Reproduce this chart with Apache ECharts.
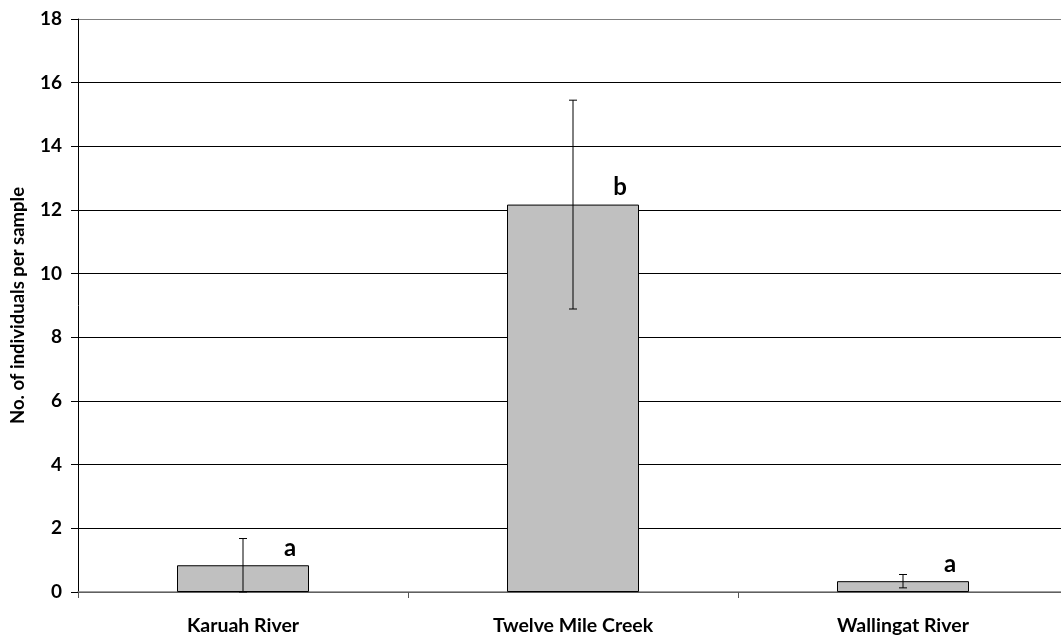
<!DOCTYPE html>
<html>
<head>
<meta charset="utf-8">
<script src="https://cdn.jsdelivr.net/npm/echarts@6/dist/echarts.min.js"></script>
<style>html,body{margin:0;padding:0;background:#fff}#c{width:1061px;height:637px}</style>
</head>
<body>
<div id="c"></div>
<script>
const categories = ['Karuah River', 'Twelve Mile Creek', 'Wallingat River'];
const means = [0.84, 12.17, 0.34];
const errors = [0.84, 3.28, 0.21];
const letters = ['a', 'b', 'a'];
const yTicks = [0, 2, 4, 6, 8, 10, 12, 14, 16, 18];

const FONT = 'Lato';
const chart = echarts.init(document.getElementById('c'), null, {renderer: 'canvas'});
const gridColors = yTicks.map((v, i) => i === yTicks.length - 1 ? '#808080' : '#000');

chart.setOption({
  animation: false,
  backgroundColor: '#fff',
  grid: {left: 78, top: 19, width: 990, height: 573, containLabel: false, outerBoundsMode: 'none'},
  xAxis: {
    type: 'category',
    data: categories,
    boundaryGap: true,
    axisLine: {lineStyle: {color: '#808080', width: 1.5}},
    axisTick: {show: true, length: 6, lineStyle: {color: '#555'}},
    axisLabel: {margin: 24, fontFamily: FONT, fontWeight: 'bold', fontSize: 19.5, color: '#000'}
  },
  yAxis: {
    type: 'value',
    min: 0, max: 18, interval: 2,
    name: 'No. of individuals per sample',
    nameLocation: 'middle',
    nameGap: 50,
    nameTextStyle: {fontFamily: FONT, fontWeight: 'bold', fontSize: 18.5, color: '#000'},
    axisLine: {show: true, lineStyle: {color: '#000', width: 1}},
    axisTick: {show: true, length: 7, lineStyle: {color: '#000'}},
    axisLabel: {margin: 16, fontFamily: FONT, fontWeight: 'bold', fontSize: 19, color: '#000'},
    splitLine: {show: true, lineStyle: {color: gridColors, width: 1}}
  },
  series: [
    {
      type: 'bar',
      data: means.map((m, i) => ({value: m, label: {formatter: letters[i]}})),
      barWidth: '40%',
      itemStyle: {color: '#c0c0c0', borderColor: '#000', borderWidth: 1},
      label: {show: true, position: 'top', distance: 5, offset: [47, 0],
              fontFamily: FONT, fontWeight: 'bold', fontSize: 24, color: '#000'},
      z: 2
    },
    {
      type: 'custom',
      data: means.map((m, i) => [i, Math.max(0, m - errors[i]), m + errors[i]]),
      renderItem: function (params, api) {
        const lo = api.coord([api.value(0), api.value(1)]);
        const hi = api.coord([api.value(0), api.value(2)]);
        const cap = 4;
        const s = {stroke: '#000', lineWidth: 1};
        return {type: 'group', children: [
          {type: 'line', shape: {x1: hi[0], y1: hi[1], x2: lo[0], y2: lo[1]}, style: s},
          {type: 'line', shape: {x1: hi[0] - cap, y1: hi[1], x2: hi[0] + cap, y2: hi[1]}, style: s},
          {type: 'line', shape: {x1: lo[0] - cap, y1: lo[1], x2: lo[0] + cap, y2: lo[1]}, style: s}
        ]};
      },
      z: 3
    }
  ]
});
</script>
</body>
</html>
